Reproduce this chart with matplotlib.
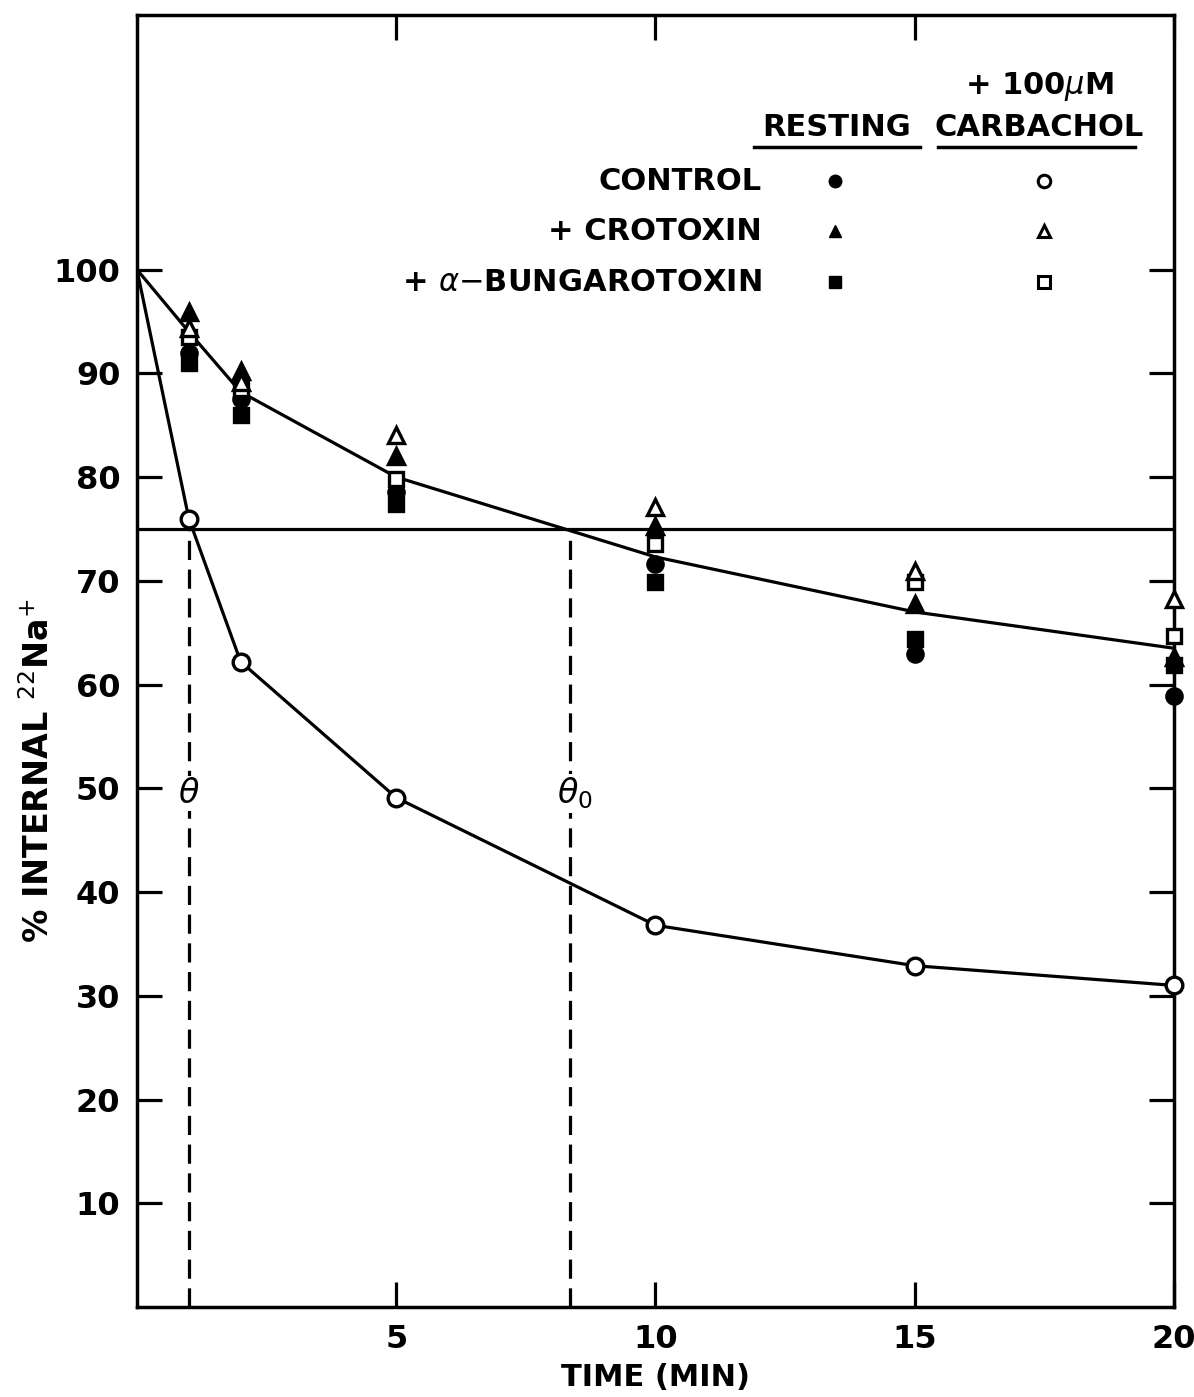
import numpy as np
import matplotlib.pyplot as plt

# time points (min)
t = [0, 1, 2, 5, 10, 15, 20]

# + 100 uM carbachol, control (open circles, lower curve)
carb_control = [100, 76, 62.2, 49.1, 36.8, 32.9, 31.0]

# resting
rest_control = [92.0, 87.5, 78.6, 71.6, 62.9, 58.9]
rest_crotox = [95.9, 90.2, 82.0, 75.3, 67.8, 62.7]
rest_bgtx = [91.0, 86.0, 77.4, 69.9, 64.4, 61.9]

# + carbachol with toxins
carb_crotox = [94.4, 89.2, 84.1, 77.1, 70.9, 68.2]
carb_bgtx = [93.5, 88.5, 79.8, 73.5, 69.9, 64.7]

# fitted curve through the resting / toxin points
upper_curve = [100, 94.0, 88.2, 80.0, 72.3, 67.0, 63.5]

half_level = 75
theta = 1.0
theta0 = 8.35

plt.rcParams['font.family'] = ['DejaVu Sans']
fig = plt.figure(figsize=(11.94, 13.97), dpi=100)
ax = fig.add_axes([0.1147, 0.0644, 0.9832 - 0.1147, 0.989 - 0.0644])

lw = 2.3
ax.plot(t, carb_control, color='black', lw=lw, zorder=2)
ax.plot(t, upper_curve, color='black', lw=lw, zorder=2)
ax.axhline(half_level, color='black', lw=lw, zorder=1)
ax.plot([theta, theta], [0, half_level], color='black', lw=lw, ls=(0, (6, 3)), zorder=1)
ax.plot([theta0, theta0], [0, half_level], color='black', lw=lw, ls=(0, (6, 3)), zorder=1)

ms = 11
mk = dict(ls='none', clip_on=False, zorder=4, markeredgewidth=2.4, color='black')
tp = t[1:]
ax.plot(tp, rest_control, marker='o', markersize=ms, markerfacecolor='black', **mk)
ax.plot(tp, rest_bgtx, marker='s', markersize=ms - 1, markerfacecolor='black', **mk)
ax.plot(tp, rest_crotox, marker='^', markersize=ms + 1, markerfacecolor='black', **mk)
ax.plot(tp, carb_bgtx, marker='s', markersize=ms - 1, markerfacecolor='white', **mk)
ax.plot(tp, carb_crotox, marker='^', markersize=ms + 1, markerfacecolor='white', **mk)
ax.plot(tp, carb_control[1:], marker='o', markersize=ms + 1, markerfacecolor='white', **mk)

ax.text(theta, 49.5, r'$\theta$', fontsize=24, ha='center', va='center',
        bbox=dict(facecolor='white', edgecolor='none', pad=1), zorder=3)
ax.text(theta0 + 0.1, 49.5, r'$\theta_0$', fontsize=24, ha='center', va='center',
        bbox=dict(facecolor='white', edgecolor='none', pad=1), zorder=3)

# key
fs = 22
kw = dict(fontsize=fs, fontweight='bold')
ax.text(17.4, 117.6, r'+ 100$\mu$M', ha='center', va='center', **kw)
ax.text(13.5, 113.7, 'RESTING', ha='center', va='center', **kw)
ax.text(17.4, 113.7, 'CARBACHOL', ha='center', va='center', **kw)
ax.plot([11.9, 15.1], [111.8, 111.8], color='black', lw=2.5)
ax.plot([15.45, 19.25], [111.8, 111.8], color='black', lw=2.5)

rows = ['CONTROL', '+ CROTOXIN', r'+ $\alpha$$-$BUNGAROTOXIN']
row_y = [108.5, 103.7, 98.8]
row_mk = ['o', '^', 's']
for label, y, m in zip(rows, row_y, row_mk):
    ax.text(12.05, y, label, ha='right', va='center', **kw)
    ax.plot(13.46, y, marker=m, markersize=9, color='black', markerfacecolor='black', ls='none')
    ax.plot(17.5, y, marker=m, markersize=9, color='black', markerfacecolor='white',
            markeredgewidth=2.2, ls='none')

ax.set_xlim(0, 20)
ax.set_ylim(0, 124.5)
ax.set_xticks([5, 10, 15, 20])
ax.set_xticklabels(['5', '10', '15', '20'])
ax.set_yticks(range(10, 101, 10))
ax.tick_params(axis='both', direction='in', length=18, width=2.3, labelsize=23,
               top=True, right=True, pad=12)
for lab in ax.get_xticklabels() + ax.get_yticklabels():
    lab.set_fontweight('bold')
for s in ax.spines.values():
    s.set_linewidth(2.5)

ax.set_xlabel('TIME (MIN)', fontsize=22, fontweight='bold')
ax.xaxis.set_label_coords(0.5, -0.043)
ax.set_ylabel(r'% INTERNAL $^{22}$Na$^{+}$', fontsize=24, fontweight='bold')
ax.yaxis.set_label_coords(-0.078, 0.415)

fig.savefig('out.png', dpi=100)
